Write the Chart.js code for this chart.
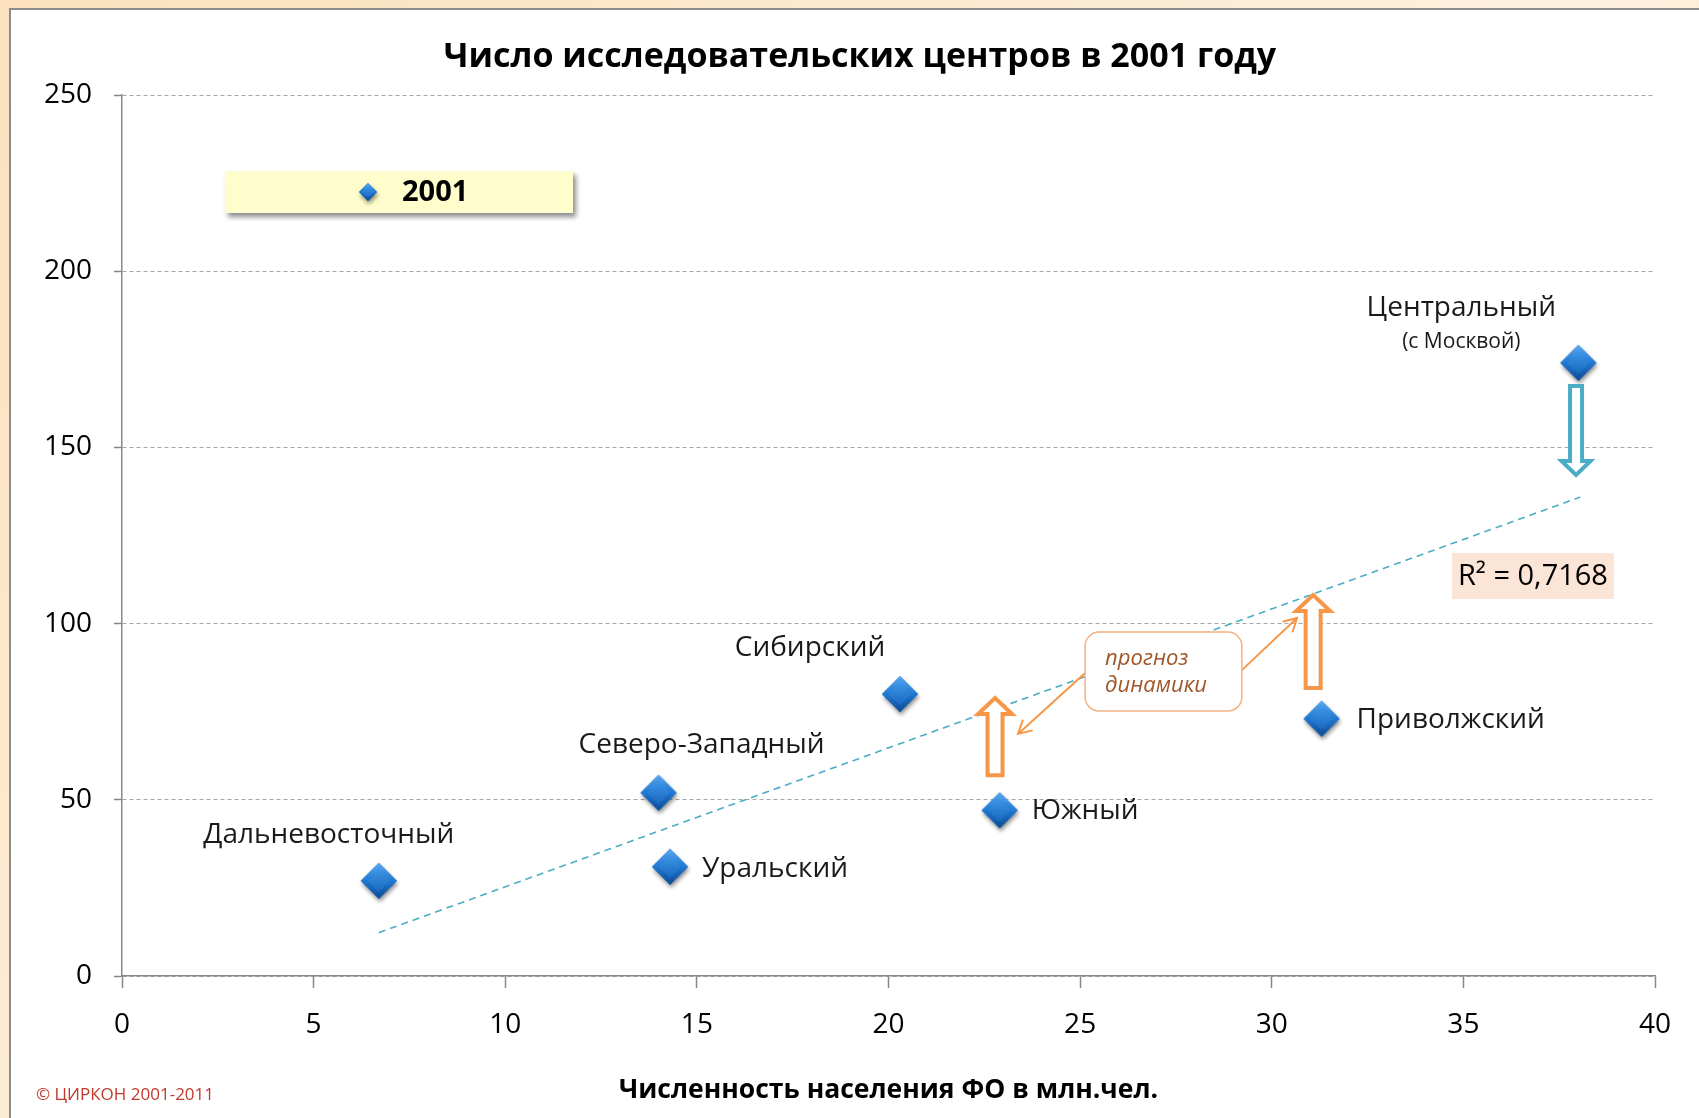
<!DOCTYPE html>
<html lang="ru">
<head>
    <meta charset="UTF-8">
    <title>Число исследовательских центров в 2001 году</title>
    <script src="https://cdn.jsdelivr.net/npm/chart.js"></script>
    <style>
        html, body { margin: 0; padding: 0; }
        body {
            width: 1699px;
            height: 1118px;
            overflow: hidden;
            position: relative;
            background: linear-gradient(135deg, #fbe1bd 0%, #fdf0dd 55%, #fbe5c6 100%);
        }
        .panel {
            position: absolute;
            left: 9px;
            top: 8px;
            right: -4px;
            bottom: -4px;
            background: #fff;
            border: 2px solid #8c8c8c;
        }
        #chart { position: absolute; left: 0; top: 0; }
    </style>
</head>
<body>
    <div class="panel"></div>
    <canvas id="chart" width="1699" height="1118"></canvas>

    <script>
        // Федеральные округа: население (млн чел.) и число исследовательских центров, 2001
        const regions = ["Дальневосточный", "Северо-Западный", "Уральский", "Сибирский", "Южный", "Приволжский", "Центральный"];
        const population = [6.7, 14.0, 14.3, 20.3, 22.9, 31.3, 38.0];
        const centers = [27, 52, 31, 80, 47, 73, 174];

        // линия тренда (концы)
        const trendX = [6.7, 38.05];
        const trendY = [12.3, 135.9];
        const rSquared = "R² = 0,7168";

        const xTicks = [0, 5, 10, 15, 20, 25, 30, 35, 40];
        const yTicks = [0, 50, 100, 150, 200, 250];

        const chartTitle = 'Число исследовательских центров в 2001 году';
        const FONT = '"Open Sans", "Noto Sans", sans-serif';

        // где ставить подписи точек (смещение в пикселях от маркера)
        const labelPlace = [
            { dx: -50, dy: -46, align: 'center' },
            { dx: 43, dy: -48, align: 'center' },
            { dx: 32, dy: 2, align: 'left' },
            { dx: -90, dy: -46, align: 'center' },
            { dx: 32, dy: 1, align: 'left' },
            { dx: 35, dy: 1, align: 'left' },
            { dx: -117, dy: -55, align: 'center', sub: '(с Москвой)' }
        ];

        // синий ромбик с фаской и тенью
        function makeDiamond(r) {
            const pad = 7;
            const c = document.createElement('canvas');
            c.width = c.height = 2 * r + 2 * pad;
            const g = c.getContext('2d');
            const cx = r + pad, cy = r + pad;
            const path = (k) => {
                g.beginPath();
                g.moveTo(cx, cy - r * k);
                g.lineTo(cx + r * k, cy);
                g.lineTo(cx, cy + r * k);
                g.lineTo(cx - r * k, cy);
                g.closePath();
            };
            g.save();
            g.shadowColor = 'rgba(0,0,0,0.45)';
            g.shadowBlur = 4;
            g.shadowOffsetX = 1;
            g.shadowOffsetY = 3;
            path(1);
            g.fillStyle = '#1560b4';
            g.fill();
            g.restore();
            let grad = g.createLinearGradient(cx, cy - r, cx, cy + r);
            grad.addColorStop(0, '#5aaaf0');
            grad.addColorStop(0.5, '#1f78d2');
            grad.addColorStop(1, '#0c4a92');
            path(1);
            g.fillStyle = grad;
            g.fill();
            grad = g.createLinearGradient(cx, cy - r * 0.6, cx, cy + r * 0.6);
            grad.addColorStop(0, '#3d95e6');
            grad.addColorStop(1, '#1969c0');
            path(0.62);
            g.fillStyle = grad;
            g.fill();
            return c;
        }
        const pointImg = makeDiamond(18);
        const legendImg = makeDiamond(9);

        // пояснения на графике, в единицах осей
        const notes = {
            blockArrows: [
                { x: 37.94, from: 167.4, to: 142.2, color: '#4bacc6', shaft: 12, head: 29, headLen: 14 },
                { x: 22.78, from: 57.0, to: 78.9, color: '#f79646', shaft: 15, head: 34, headLen: 16 },
                { x: 31.08, from: 81.7, to: 108.1, color: '#f79646', shaft: 15, head: 34, headLen: 16 }
            ],
            callout: { x1: 25.13, x2: 29.22, y1: 97.6, y2: 75.2, lines: ['прогноз', 'динамики'] },
            thinArrows: [
                { x1: 25.13, y1: 86.0, x2: 23.38, y2: 68.7 },
                { x1: 29.22, y1: 86.8, x2: 30.66, y2: 101.6 }
            ],
            rBox: { x1: 34.70, x2: 38.93, y1: 120.0, y2: 107.0 }
        };

        function blockArrow(ctx, x, yTail, yTip, a) {
            const dir = yTip < yTail ? -1 : 1;
            const yNeck = yTip - dir * a.headLen;
            ctx.beginPath();
            ctx.moveTo(x - a.shaft / 2, yTail);
            ctx.lineTo(x - a.shaft / 2, yNeck);
            ctx.lineTo(x - a.head / 2, yNeck);
            ctx.lineTo(x, yTip);
            ctx.lineTo(x + a.head / 2, yNeck);
            ctx.lineTo(x + a.shaft / 2, yNeck);
            ctx.lineTo(x + a.shaft / 2, yTail);
            ctx.closePath();
            ctx.fillStyle = '#fff';
            ctx.fill();
            ctx.lineWidth = 4;
            ctx.lineJoin = 'miter';
            ctx.strokeStyle = a.color;
            ctx.stroke();
        }

        function thinArrow(ctx, x1, y1, x2, y2, color) {
            const ang = Math.atan2(y2 - y1, x2 - x1);
            const len = 15, spread = 0.5;
            ctx.strokeStyle = color;
            ctx.lineWidth = 2;
            ctx.beginPath();
            ctx.moveTo(x1, y1);
            ctx.lineTo(x2, y2);
            ctx.moveTo(x2 - len * Math.cos(ang - spread), y2 - len * Math.sin(ang - spread));
            ctx.lineTo(x2, y2);
            ctx.lineTo(x2 - len * Math.cos(ang + spread), y2 - len * Math.sin(ang + spread));
            ctx.stroke();
        }

        const decorations = {
            id: 'decorations',
            afterDatasetsDraw(chart) {
                const ctx = chart.ctx;
                const xs = chart.scales.x, ys = chart.scales.y;
                const px = v => xs.getPixelForValue(v);
                const py = v => ys.getPixelForValue(v);
                ctx.save();

                // подписи округов
                const meta = chart.getDatasetMeta(0);
                ctx.fillStyle = '#1a1a1a';
                ctx.textBaseline = 'middle';
                meta.data.forEach((pt, i) => {
                    const p = labelPlace[i];
                    ctx.font = '28px ' + FONT;
                    ctx.textAlign = p.align;
                    ctx.fillText(regions[i], pt.x + p.dx, pt.y + p.dy);
                    if (p.sub) {
                        ctx.font = '21px ' + FONT;
                        ctx.fillText(p.sub, pt.x + p.dx, pt.y + p.dy + 34);
                    }
                });

                // выноска «прогноз динамики»
                const c = notes.callout;
                notes.thinArrows.forEach(a => thinArrow(ctx, px(a.x1), py(a.y1), px(a.x2), py(a.y2), '#f79646'));
                ctx.beginPath();
                ctx.roundRect(px(c.x1), py(c.y1), px(c.x2) - px(c.x1), py(c.y2) - py(c.y1), 14);
                ctx.fillStyle = '#fff';
                ctx.fill();
                ctx.lineWidth = 1.5;
                ctx.strokeStyle = '#f4b183';
                ctx.stroke();
                ctx.font = 'italic 22px ' + FONT;
                ctx.fillStyle = '#a0572a';
                ctx.textAlign = 'left';
                ctx.fillText(c.lines[0], px(c.x1) + 20, py(c.y1) + 27);
                ctx.fillText(c.lines[1], px(c.x1) + 20, py(c.y1) + 54);

                // блочные стрелки
                notes.blockArrows.forEach(a => blockArrow(ctx, px(a.x), py(a.from), py(a.to), a));

                // R²
                const r = notes.rBox;
                ctx.fillStyle = '#fbe5d6';
                ctx.fillRect(px(r.x1), py(r.y1), px(r.x2) - px(r.x1), py(r.y2) - py(r.y1));
                ctx.fillStyle = '#000';
                ctx.font = '29px ' + FONT;
                ctx.textAlign = 'center';
                ctx.fillText(rSquared, (px(r.x1) + px(r.x2)) / 2, (py(r.y1) + py(r.y2)) / 2 + 1);

                ctx.restore();
            },
            afterDraw(chart) {
                const ctx = chart.ctx;
                const area = chart.chartArea;
                ctx.save();

                // заголовок
                ctx.font = 'bold 34px ' + FONT;
                ctx.fillStyle = '#000';
                ctx.textAlign = 'center';
                ctx.textBaseline = 'middle';
                ctx.fillText(chartTitle, 860, 57);

                // легенда
                const lx = area.left + 103, ly = area.top + 76, lw = 348, lh = 42;
                ctx.save();
                ctx.shadowColor = 'rgba(0,0,0,0.45)';
                ctx.shadowBlur = 5;
                ctx.shadowOffsetX = 3;
                ctx.shadowOffsetY = 4;
                ctx.fillStyle = '#fefdcb';
                ctx.fillRect(lx, ly, lw, lh);
                ctx.restore();
                ctx.drawImage(legendImg, lx + 143 - legendImg.width / 2, ly + lh / 2 - legendImg.height / 2);
                ctx.font = 'bold 29px ' + FONT;
                ctx.fillStyle = '#000';
                ctx.textAlign = 'left';
                ctx.fillText(chart.data.datasets[0].label, lx + 177, ly + lh / 2 + 1);

                // копирайт
                ctx.font = '17px ' + FONT;
                ctx.fillStyle = '#c0392b';
                ctx.fillText('© ЦИРКОН 2001-2011', 36, 1095);
                ctx.restore();
            }
        };

        const ctx = document.getElementById('chart').getContext('2d');
        new Chart(ctx, {
            type: 'scatter',
            data: {
                datasets: [{
                    label: '2001',
                    data: population.map((x, i) => ({ x: x, y: centers[i] })),
                    pointStyle: pointImg,
                    pointRadius: 18,
                    pointHoverRadius: 18,
                    order: 0
                }, {
                    label: 'тренд',
                    type: 'line',
                    data: trendX.map((x, i) => ({ x: x, y: trendY[i] })),
                    showLine: true,
                    borderColor: '#4bacc6',
                    borderWidth: 1.6,
                    borderDash: [7, 5],
                    pointRadius: 0,
                    fill: false,
                    order: 1
                }]
            },
            options: {
                responsive: false,
                animation: false,
                events: [],
                layout: { padding: { left: 0, right: 44, top: 95, bottom: 0 } },
                plugins: {
                    legend: { display: false },
                    tooltip: { enabled: false },
                    title: { display: false }
                },
                scales: {
                    x: {
                        type: 'linear',
                        min: 0,
                        max: 40,
                        afterBuildTicks: s => { s.ticks = xTicks.map(v => ({ value: v })); },
                        ticks: { color: '#000', font: { family: FONT, size: 28 }, padding: 20 },
                        grid: { drawOnChartArea: false, tickLength: 12, color: '#888', tickWidth: 1.5 },
                        border: { color: '#888', width: 1.5 },
                        title: {
                            display: true,
                            text: 'Численность населения ФО в млн.чел.',
                            color: '#000',
                            font: { family: FONT, size: 26.5, weight: 'bold' },
                            padding: { top: 0, bottom: 12 }
                        },
                        afterFit: s => { s.height = 142; }
                    },
                    y: {
                        type: 'linear',
                        min: 0,
                        max: 250,
                        afterBuildTicks: s => { s.ticks = yTicks.map(v => ({ value: v })); },
                        ticks: { color: '#000', font: { family: FONT, size: 28 }, padding: 22 },
                        grid: { color: '#a6a6a6', lineWidth: 1, tickLength: 8, tickColor: '#888', tickWidth: 1.5 },
                        border: { color: '#888', width: 1.5, dash: [4, 3] },
                        afterFit: s => { s.width = 122; }
                    }
                }
            },
            plugins: [decorations]
        });
    </script>
</body>
</html>
